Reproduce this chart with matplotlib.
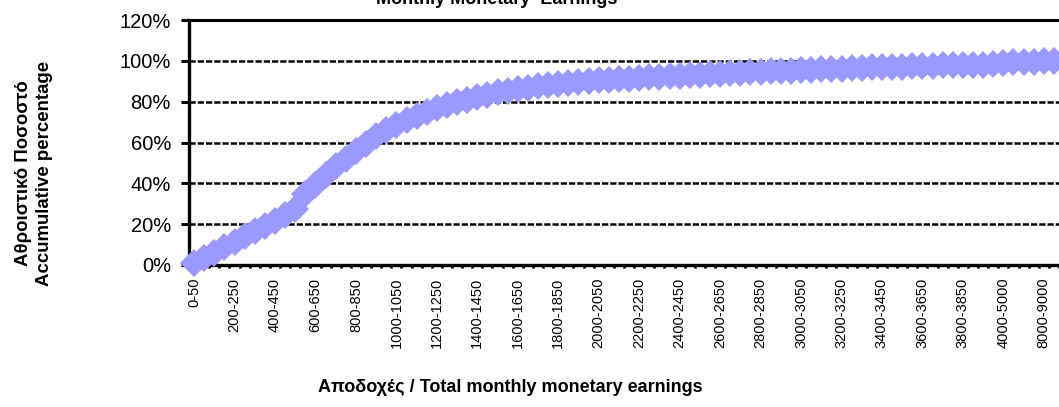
import numpy as np
import matplotlib
matplotlib.use("Agg")
import matplotlib.pyplot as plt
from matplotlib.ticker import PercentFormatter

plt.rcParams['font.family'] = ['Liberation Sans', 'DejaVu Sans']

# earnings bands: 50-wide up to 4000, then 1000-wide
BINS = [f"{lo}-{lo + 50}" for lo in range(0, 4000, 50)] + [
    "4000-5000", "5000-6000", "6000-7000", "7000-8000", "8000-9000", "9000-10000"]

# cumulative share of employees (%) per band
CUM_PCT = [
    1.0, 3.5, 6.0, 9.0, 11.5, 14.0, 16.5, 19.0, 21.5, 24.5,
    27.5, 35.0, 39.0, 44.0, 48.5, 52.0, 56.0, 59.5, 63.0, 66.0,
    68.5, 71.0, 73.0, 75.0, 76.8, 78.2, 79.6, 81.0, 82.5, 83.5,
    84.5, 85.4, 86.2, 86.9, 87.5, 88.1, 88.7, 89.2, 89.6, 90.0,
    90.4, 90.7, 91.0, 91.3, 91.6, 91.9, 92.2, 92.5, 92.8, 93.0,
    93.2, 93.5, 93.7, 94.0, 94.2, 94.4, 94.6, 94.8, 95.0, 95.2,
    95.4, 95.6, 95.8, 96.0, 96.2, 96.4, 96.6, 96.8, 97.0, 97.1,
    97.2, 97.4, 97.5, 97.6, 97.8, 97.9, 98.0, 98.1, 98.2, 98.3,
    98.8, 99.2, 99.4, 99.6, 99.8, 100.0,
]

x = np.arange(len(BINS))

fig = plt.figure(figsize=(10.59, 4.07), dpi=100)
ax = fig.add_axes([189 / 1059, 142 / 407, 870 / 1059, 245 / 407])

ax.plot(x, CUM_PCT, linestyle='none', marker='D', ms=14, color='#9999ff',
        mec='#9999ff', mew=0, clip_on=False, zorder=3)

ax.set_xlim(-0.5, len(BINS) - 0.5)
ax.set_ylim(0, 120)

ax.set_yticks(range(0, 121, 20))
ax.yaxis.set_major_formatter(PercentFormatter(100, decimals=0))
ax.yaxis.grid(True, linestyle=(0, (2.5, 0.8)), color='black', lw=1.8)
ax.set_axisbelow(True)

ax.set_xticks(x[::4], BINS[::4], rotation=90, va='top', ha='center')
ax.set_xticks(np.arange(len(BINS) + 1) - 0.5, minor=True)
ax.tick_params(axis='x', which='major', length=0, pad=9, labelsize=10.5)
ax.tick_params(axis='x', which='minor', length=2.5, width=2, color='black')
ax.tick_params(axis='y', length=6, width=2.2, pad=7, labelsize=14.5)

for side in ('left', 'bottom'):
    ax.spines[side].set_linewidth(2.4)
ax.spines['top'].set_linewidth(2.2)
ax.spines['right'].set_visible(False)

fig.text(34 / 1059, 1 - 173.5 / 407, "Αθροιστικό Ποσοστό\nAccumulative percentage",
         rotation=90, ha='center', va='center', fontsize=13.4, fontweight='bold',
         multialignment='center', linespacing=1.35)
fig.text(510 / 1059, 19 / 407, "Αποδοχές / Total monthly monetary earnings",
         ha='center', va='center', fontsize=13, fontweight='bold')
fig.text(497 / 1059, 1 - 4 / 407, "Monthly Monetary  Earnings",
         ha='center', va='baseline', fontsize=13, fontweight='bold')

fig.savefig("out.png", dpi=100, facecolor='white')
